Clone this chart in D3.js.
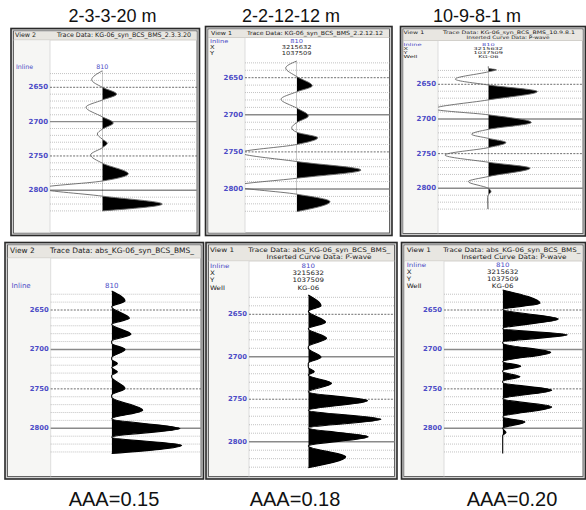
<!DOCTYPE html>
<html>
<head>
<meta charset="utf-8">
<script src="https://cdn.jsdelivr.net/npm/d3@7"></script>
<style>
  body { margin: 0; background: #fff; }
  svg { display: block; }
</style>
</head>
<body>
<svg id="fig" width="586" height="510"></svg>
<script>
// ---------------- data ----------------
const titles   = ["2-3-3-20 m", "2-2-12-12 m", "10-9-8-1 m"];
const captions = ["AAA=0.15", "AAA=0.18", "AAA=0.20"];
const depthLabels = [2650, 2700, 2750, 2800];
const gridDepths  = [2630, 2640, 2650, 2660, 2670, 2680, 2690, 2700, 2710, 2720, 2730,
                     2740, 2750, 2760, 2770, 2780, 2790, 2800, 2810, 2820, 2830];

// synthetic traces: depth of each turning point / zero crossing and the amplitude there
const synDepth_2_3_3_20 = [2626, 2639, 2650, 2660, 2668.5, 2679, 2693, 2702, 2711, 2718, 2725.5,
                           2731.5, 2738, 2748.5, 2760.5, 2776, 2786.5, 2797, 2808.5, 2820, 2830];
const synAmp_2_3_3_20   = [0, -10.6, 0, 14.3, 0, -16.3, 0, 11, 0, -5, 0,
                           5, 0, -11.7, 0, 26, 0, -62, 0, 60, 0];

const synDepth_2_2_12_12 = [2627.5, 2637, 2648.5, 2661, 2669, 2679, 2691, 2701.5, 2710.5, 2717.5, 2723.5,
                            2731, 2740, 2751, 2763, 2774.5, 2785.5, 2796, 2807, 2817, 2830.5];
const synAmp_2_2_12_12   = [0, -11, 0, 15.6, 0, -15.7, 0, 11.7, 0, -5, 0,
                            21, 0, -56, 0, 64.3, 0, -62, 0, 33.3, 0];

const synDepth_10_9_8_1 = [2624, 2627, 2629, 2632, 2642.5, 2651, 2660.5, 2672.5, 2685.5, 2694, 2705,
                           2715, 2722, 2728, 2734, 2741.3, 2752, 2762.4, 2771, 2783, 2790.3,
                           2800, 2805, 2809.5, 2813, 2830];
const synAmp_10_9_8_1   = [0, 0, 8, 0, -33, 0, 49, 0, -54, 0, 43,
                           0, -16.7, 0, 17.7, 0, -43.3, 0, 41.7, 0, -20,
                           0, 2.7, 0, -0.8, -0.5];

// absolute-value traces
const absDepth_2_3_3_20 = [2626, 2638.6, 2645.8, 2660.6, 2668.2, 2680.9, 2689.4, 2692.3, 2700, 2710.6,
                           2712.7, 2717.8, 2723, 2728.4, 2733, 2735, 2749.5, 2758, 2760.2, 2777,
                           2788, 2800.3, 2811.2, 2821.5, 2832];
const absAmp_2_3_3_20   = [0, 13.3, 0, 17.7, 0, 19.3, 0, 0, 13.3, 0,
                           0, 5.7, 0, 5.7, 0, 0, 13.3, 0, 0, 31,
                           0, 68.3, 0, 70, 0];

const absDepth_2_2_12_12 = [2627.3, 2640, 2646.5, 2659.4, 2667, 2678.3, 2688.1, 2690, 2700.6, 2707.7,
                            2712.4, 2717.6, 2721.5, 2731.3, 2741.5, 2751.7, 2763, 2773.7, 2784, 2794.2,
                            2805, 2817.7, 2830.7];
const absAmp_2_2_12_12   = [0, 12.7, 0, 17.3, 0, 18.3, 0, 0, 12.7, 0,
                            0, 6, 0, 23.3, 0, 59.3, 0, 72.7, 0, 60,
                            0, 37.3, 0];

const absDepth_10_9_8_1 = [2624.6, 2641.5, 2649.3, 2661.4, 2673.7, 2681.5, 2691, 2692.3, 2703.8, 2715.5,
                           2721.2, 2727, 2728.4, 2734.7, 2740.2, 2742, 2751.7, 2762.5, 2772.9, 2785.6,
                           2791.9, 2800, 2805.4, 2809, 2832];
const absAmp_10_9_8_1   = [0, 37.3, 0, 55.6, 0, 64.6, 0, 0, 48, 0,
                           18, 0, 0, 17.3, 0, 0, 49, 0, 49, 0,
                           22.3, 0, 3.3, 0, 0];

// ---------------- layout of the six trace windows ----------------
// hfs/hsy: header font size and vertical squash, ifs/isy: same for the trace header rows
const panels = [
  { box: [11, 28.5, 199.5, 235.5], headBottom: 40, colEdge: 50, base: 102.3, y2650: 87.3, y2800: 190.3,
    hfs: 6.3, hsy: 1, ifs: 6.3, isy: 1, lfs: 7, view: "View 2", viewX: 15, traceX: 57, headY: [34],
    head: ["Trace Data: KG-06_syn_BCS_BMS_2.3.3.20"], headW: [134], lineCol: "#666", abs: false,
    infoX: 16, infoY: [66], info: [["Inline", "810"]],
    depth: synDepth_2_3_3_20, amp: synAmp_2_3_3_20 },
  { box: [205.5, 26.5, 392, 235.5], headBottom: 37.5, colEdge: 245, base: 296.7, y2650: 77.7, y2800: 189,
    hfs: 6.3, hsy: 0.9, ifs: 6.7, isy: 0.8, lfs: 7, view: "View 1", viewX: 211, traceX: 247, headY: [33],
    head: ["Trace Data: KG-06_syn_BCS_BMS_2.2.12.12"], headW: [136], lineCol: "#666", abs: false,
    infoX: 210, infoY: [41.2, 47, 52.7], info: [["Inline", "810"], ["X", "3215632"], ["Y", "1037509"]],
    depth: synDepth_2_2_12_12, amp: synAmp_2_2_12_12 },
  { box: [400.5, 26.5, 585.5, 236], headBottom: 40.5, colEdge: 438, base: 488.3, y2650: 84.3, y2800: 188.3,
    hfs: 6.2, hsy: 0.75, ifs: 6.6, isy: 0.62, lfs: 7, view: "View 1", viewX: 403.5, traceX: 443, headY: [32.2, 37.4],
    head: ["Trace Data: KG-06_syn_BCS_BMS_10.9.8.1", "Inserted Curve Data: P-wave"], headW: [132, 83],
    headC: 508, lineCol: "#666", abs: false,
    infoX: 403.5, infoY: [44.3, 48.5, 52.7, 56.9],
    info: [["Inline", "810"], ["X", "3215632"], ["Y", "1037509"], ["Well", "KG-06"]],
    depth: synDepth_10_9_8_1, amp: synAmp_10_9_8_1 },
  { box: [5, 242.5, 203.5, 479], headBottom: 258, colEdge: 50.7, base: 111.7, y2650: 310, y2800: 428.3,
    hfs: 7.4, hsy: 1, ifs: 7, isy: 1, lfs: 6.8, view: "View 2", viewX: 10, traceX: 50, headY: [250],
    head: ["Trace Data: abs_KG-06_syn_BCS_BMS_"], headW: [144], lineCol: "#000", abs: true,
    infoX: 11.5, infoY: [286], info: [["Inline", "810"]],
    depth: absDepth_2_3_3_20, amp: absAmp_2_3_3_20 },
  { box: [206, 242.5, 397, 479], headBottom: 261, colEdge: 249, base: 308.3, y2650: 314.3, y2800: 441.7,
    hfs: 7.3, hsy: 0.85, ifs: 7.1, isy: 0.85, lfs: 6.8, view: "View 1", viewX: 210, traceX: 248.3, headY: [249.8, 257.5],
    head: ["Trace Data: abs_KG-06_syn_BCS_BMS_", "Inserted Curve Data: P-wave"], headW: [142, 105],
    headC: 319, lineCol: "#000", abs: true,
    infoX: 210, infoY: [266, 273, 280.3, 287.7],
    info: [["Inline", "810"], ["X", "3215632"], ["Y", "1037509"], ["Well", "KG-06"]],
    depth: absDepth_2_2_12_12, amp: absAmp_2_2_12_12 },
  { box: [401.5, 242.5, 585.5, 479], headBottom: 261, colEdge: 444, base: 502.7, y2650: 310, y2800: 428.3,
    hfs: 7.3, hsy: 0.85, ifs: 7.1, isy: 0.85, lfs: 6.8, view: "View 1", viewX: 406.7, traceX: 443.3, headY: [249.8, 257.5],
    head: ["Trace Data: abs_KG-06_syn_BCS_BMS_", "Inserted Curve Data: P-wave"], headW: [137, 105],
    headC: 514, lineCol: "#000", abs: true,
    infoX: 406.7, infoY: [265, 271.9, 278.7, 285.7],
    info: [["Inline", "810"], ["X", "3215632"], ["Y", "1037509"], ["Well", "KG-06"]],
    depth: absDepth_10_9_8_1, amp: absAmp_10_9_8_1 }
];

const titleX   = [112.5, 291, 477];
const captionX = [114, 295, 512];

// ---------------- drawing ----------------
const svg = d3.select("#fig");
const SANS = "'Liberation Sans', Arial, sans-serif";
const UI = "'DejaVu Sans', sans-serif";
const LABEL_BLUE = "#4b4bc6";

svg.append("rect").attr("width", 586).attr("height", 510).attr("fill", "#fff");

svg.selectAll("text.title").data(titles).join("text")
  .attr("class", "title")
  .attr("x", (d, i) => titleX[i]).attr("y", 22)
  .attr("text-anchor", "middle")
  .attr("font-family", SANS).attr("font-size", 18).attr("fill", "#111")
  .text(d => d);

svg.selectAll("text.caption").data(captions).join("text")
  .attr("class", "caption")
  .attr("x", (d, i) => captionX[i]).attr("y", 505.5)
  .attr("text-anchor", "middle")
  .attr("font-family", SANS).attr("font-size", 20).attr("fill", "#111")
  .text(d => d);

// small UI text, optionally squashed vertically and stretched to a given width
function uiText(parent, x, y, str, o) {
  const t = parent.append("text")
    .attr("transform", `translate(${x},${y}) scale(1,${o.sy || 1})`)
    .attr("x", 0).attr("y", 0)
    .attr("dominant-baseline", "central")
    .attr("font-family", UI).attr("font-size", o.fs)
    .attr("fill", o.fill || "#222")
    .attr("text-anchor", o.anchor || "start")
    .text(str);
  if (o.width) t.attr("textLength", o.width).attr("lengthAdjust", "spacingAndGlyphs");
  return t;
}

panels.forEach((p, i) => drawPanel(p, i));

function drawPanel(p, i) {
  const [x0, y0, x1, y1] = p.box;
  const ix0 = x0 + 2.5, iy0 = y0 + 2.5, ix1 = x1 - 2.5, iy1 = y1 - 2.5;
  const g = svg.append("g");
  const defs = svg.append("defs");

  // window frame
  g.append("rect").attr("x", x0).attr("y", y0).attr("width", x1 - x0).attr("height", y1 - y0)
    .attr("fill", "#cfcfcf").attr("stroke", "#2a2a2a").attr("stroke-width", 1.6);
  g.append("rect").attr("x", ix0).attr("y", iy0).attr("width", ix1 - ix0).attr("height", iy1 - iy0)
    .attr("fill", "#fff").attr("stroke", "#555").attr("stroke-width", 0.9);

  // header bar and label column
  g.append("rect").attr("x", ix0 + 0.5).attr("y", iy0 + 0.5).attr("width", ix1 - ix0 - 1)
    .attr("height", p.headBottom - iy0 - 0.5).attr("fill", "#e8e6e1");
  g.append("line").attr("x1", ix0).attr("x2", ix1).attr("y1", p.headBottom).attr("y2", p.headBottom)
    .attr("stroke", "#c9c7c2").attr("stroke-width", 0.8);
  g.append("rect").attr("x", ix0 + 0.5).attr("y", p.headBottom + 0.5).attr("width", p.colEdge - ix0 - 0.5)
    .attr("height", iy1 - p.headBottom - 1).attr("fill", "#f6f6f4");
  g.append("line").attr("x1", p.colEdge).attr("x2", p.colEdge).attr("y1", p.headBottom).attr("y2", iy1)
    .attr("stroke", "#d6d6d6").attr("stroke-width", 0.8);

  // clip regions
  const plotClip = "plot" + i, posClip = "pos" + i;
  defs.append("clipPath").attr("id", plotClip).append("rect")
    .attr("x", p.colEdge).attr("y", iy0).attr("width", ix1 - p.colEdge).attr("height", iy1 - iy0);

  // scales
  const y = d3.scaleLinear().domain([2650, 2800]).range([p.y2650, p.y2800]);
  const x = d3.scaleLinear().domain([-100, 100]).range([p.base - 100, p.base + 100]);

  // window header text
  const hg = g.append("g");
  uiText(hg, p.viewX, p.headY[0], p.view, { fs: p.hfs, sy: p.hsy });
  uiText(hg, p.traceX, p.headY[0], p.head[0], { fs: p.hfs, sy: p.hsy, width: p.headW[0] });
  if (p.head.length > 1) {
    uiText(hg, p.headC, p.headY[1], p.head[1],
      { fs: p.hfs, sy: p.hsy, anchor: "middle", width: p.headW[1] });
  }

  // trace header (inline, coordinates, well)
  const ig = g.append("g");
  p.info.forEach(([k, v], r) => {
    const fill = k === "Inline" ? LABEL_BLUE : "#222";
    uiText(ig, p.infoX, p.infoY[r], k, { fs: p.ifs, sy: p.isy, fill });
    uiText(ig, x(0), p.infoY[r], v, { fs: p.ifs, sy: p.isy, fill, anchor: "middle" });
  });

  // depth grid
  const grid = g.append("g");
  gridDepths.forEach(d => {
    const major = depthLabels.includes(d);
    const solid = major && d % 100 === 0;
    grid.append("line")
      .attr("x1", p.colEdge).attr("x2", ix1)
      .attr("y1", y(d)).attr("y2", y(d))
      .attr("stroke", solid ? "#8a8a8a" : major ? "#4a4a4a" : "#b4b4b4")
      .attr("stroke-width", solid ? 1.4 : 0.8)
      .attr("stroke-dasharray", solid ? null : major ? "2,1.3" : "1,1");
  });
  g.append("g").selectAll("text").data(depthLabels).join("text")
    .attr("x", p.colEdge - 2).attr("y", d => y(d))
    .attr("text-anchor", "end").attr("dominant-baseline", "central")
    .attr("font-family", UI).attr("font-size", p.lfs).attr("font-weight", "bold")
    .attr("fill", LABEL_BLUE).text(d => d);

  // wiggle trace with variable-area fill of the positive lobes
  const pts = p.depth.map((d, k) => ({ depth: d, amp: p.amp[k] }));
  defs.append("clipPath").attr("id", posClip).append("rect")
    .attr("x", x(0)).attr("y", iy0).attr("width", ix1 - x(0)).attr("height", iy1 - iy0);

  const area = d3.area()
    .y(d => y(d.depth)).x0(x(0)).x1(d => x(d.amp))
    .curve(d3.curveMonotoneY);
  const line = d3.line()
    .y(d => y(d.depth)).x(d => x(d.amp))
    .curve(d3.curveMonotoneY);

  const tg = g.append("g").attr("clip-path", `url(#${plotClip})`);
  tg.append("g").attr("clip-path", `url(#${posClip})`)
    .append("path").datum(pts).attr("d", area).attr("fill", "#000");
  tg.append("path").datum(pts).attr("d", line)
    .attr("fill", "none").attr("stroke", p.lineCol).attr("stroke-width", p.abs ? 1.1 : 0.9);
}
</script>
</body>
</html>
